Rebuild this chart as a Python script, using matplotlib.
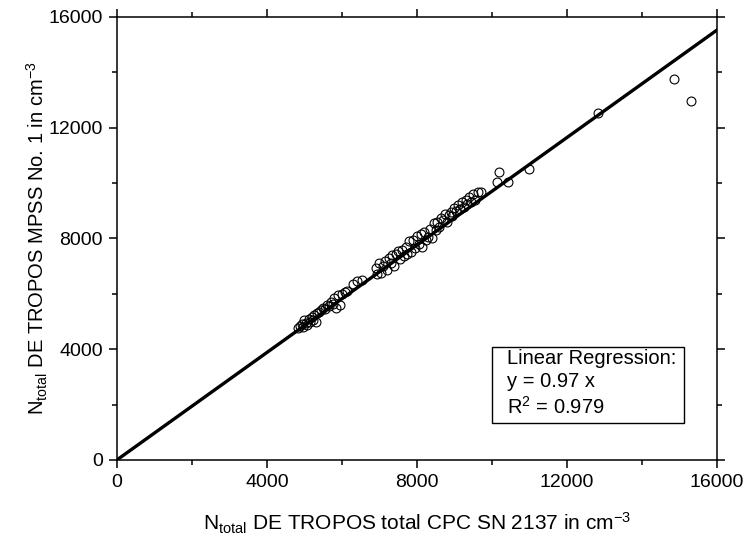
import numpy as np
import matplotlib
matplotlib.use("Agg")
import matplotlib.pyplot as plt
from matplotlib.ticker import MultipleLocator
from matplotlib.patches import Rectangle

plt.rcParams["font.family"] = ["Liberation Sans", "DejaVu Sans"]
plt.rcParams["mathtext.fontset"] = "custom"
plt.rcParams["mathtext.rm"] = "Liberation Sans"
plt.rcParams["mathtext.it"] = "Liberation Sans"

cpc_x = [4820, 4880, 4930, 4960, 5000, 5050, 5080, 5120, 5150, 5200, 5230, 5270,
         5300, 5350, 5400, 5450, 5500, 5560, 5600, 5650, 5700, 5760, 5800, 5850,
         5900, 5950, 6000, 6080, 6150, 6300, 6400, 6550, 6900, 6950, 7000, 7050,
         7100, 7150, 7200, 7250, 7300, 7350, 7400, 7450, 7500, 7550, 7600, 7650,
         7700, 7750, 7800, 7850, 7900, 7950, 8000, 8050, 8100, 8150, 8200, 8250,
         8300, 8350, 8400, 8450, 8500, 8550, 8600, 8650, 8700, 8750, 8800, 8850,
         8900, 8950, 9000, 9050, 9100, 9150, 9200, 9250, 9300, 9350, 9400, 9450,
         9500, 9550, 9630, 9720,
         10130, 10190, 10440, 10990, 12820, 14860, 15300]
mpss_y = [4780, 4850, 4900, 4820, 5050, 4950, 4880, 5100, 5000, 5180, 5050, 5250,
          4980, 5300, 5350, 5420, 5500, 5450, 5600, 5550, 5700, 5650, 5850, 5500,
          5950, 5600, 6000, 6050, 6100, 6350, 6450, 6500, 6950, 6700, 7100, 6750,
          7000, 7200, 6850, 7300, 7100, 7400, 7000, 7450, 7550, 7250, 7600, 7350,
          7700, 7450, 7900, 7500, 7950, 7650, 8100, 7800, 8150, 7700, 8250, 7950,
          8050, 8350, 8000, 8550, 8300, 8600, 8400, 8750, 8650, 8900, 8600, 8850,
          8950, 8800, 9100, 9000, 9200, 9050, 9300, 9150, 9400, 9250, 9500, 9300,
          9600, 9400, 9690, 9670,
          10050, 10400, 10030, 10510, 12540, 13760, 12970]

slope = 0.97
fit_x = [0, 16000]

fig = plt.figure(figsize=(7.49, 5.45), dpi=100)
ax = fig.add_axes([0.156, 0.156, 0.801, 0.813])

ax.plot(fit_x, [slope * v for v in fit_x], color="black", lw=2.4, zorder=3)
ax.plot(cpc_x, mpss_y, linestyle="none", marker="o", ms=6.4,
        mfc="none", mec="black", mew=0.8, zorder=2)

ax.set_xlim(0, 16000)
ax.set_ylim(0, 16000)
ax.xaxis.set_major_locator(MultipleLocator(4000))
ax.xaxis.set_minor_locator(MultipleLocator(2000))
ax.yaxis.set_major_locator(MultipleLocator(4000))
ax.yaxis.set_minor_locator(MultipleLocator(2000))
ax.tick_params(which="both", direction="out", top=True, right=True,
               width=1.1, labelsize=14)
ax.tick_params(which="major", length=6, pad=4)
ax.tick_params(which="minor", length=3.5)
for s in ax.spines.values():
    s.set_linewidth(1.1)

ax.set_xlabel(r"N$_{\mathrm{total}}$ DE TROPOS total CPC SN 2137 in cm$^{\mathrm{-3}}$",
              fontsize=15, labelpad=14)
ax.set_ylabel(r"N$_{\mathrm{total}}$ DE TROPOS MPSS No. 1 in cm$^{\mathrm{-3}}$",
              fontsize=14.5, labelpad=-1)

# regression box
ax.add_patch(Rectangle((0.625, 0.084), 0.32, 0.171, transform=ax.transAxes,
                       fill=False, ec="black", lw=1.0, zorder=4))
ax.text(0.65, 0.230, "Linear Regression:", transform=ax.transAxes,
        fontsize=14.5, va="center")
ax.text(0.65, 0.176, "y = 0.97 x", transform=ax.transAxes,
        fontsize=14.5, va="center")
ax.text(0.65, 0.120, r"R$^{\mathrm{2}}$ = 0.979", transform=ax.transAxes,
        fontsize=14.5, va="center")

fig.savefig("out.png", dpi=100)
